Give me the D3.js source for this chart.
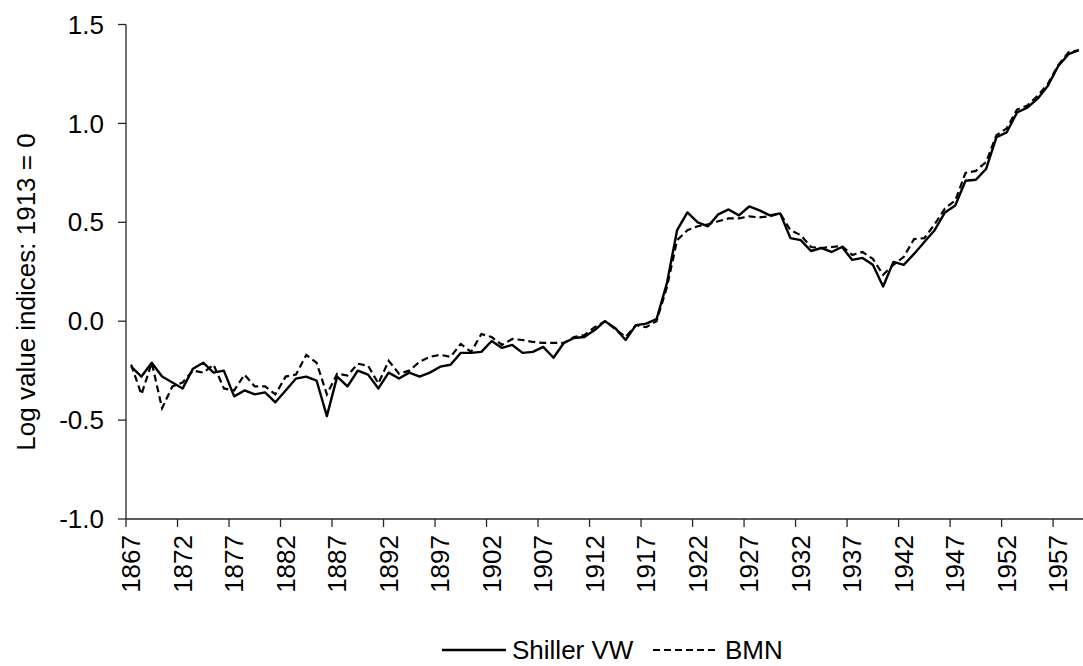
<!DOCTYPE html>
<html>
<head>
<meta charset="utf-8">
<script src="https://cdn.jsdelivr.net/npm/d3@7"></script>
<style>
  body { margin: 0; background: #fff; }
  svg { display: block; font-family: "Liberation Sans", Arial, sans-serif; }
</style>
</head>
<body>
<div id="chart"></div>
<script>
// data (log value indices, 1913 = 0)
const years = d3.range(1867, 1960);

const shillerVW = [
  -0.23, -0.28, -0.21, -0.28, -0.31, -0.34, -0.24, -0.21, -0.26, -0.25,   // 1867-1876
  -0.38, -0.35, -0.37, -0.36, -0.41, -0.35, -0.29, -0.28, -0.30, -0.48,   // 1877-1886
  -0.28, -0.33, -0.25, -0.27, -0.34, -0.26, -0.29, -0.26, -0.28, -0.26,   // 1887-1896
  -0.23, -0.22, -0.16, -0.16, -0.155, -0.10, -0.135, -0.12, -0.16, -0.155, // 1897-1906
  -0.13, -0.185, -0.11, -0.085, -0.08, -0.045, 0, -0.035, -0.095, -0.02,  // 1907-1916
  -0.012, 0.01, 0.19, 0.46, 0.55, 0.50, 0.48, 0.54, 0.565, 0.535,         // 1917-1926
  0.58, 0.56, 0.535, 0.545, 0.42, 0.41, 0.355, 0.37, 0.35, 0.375,         // 1927-1936
  0.31, 0.32, 0.285, 0.175, 0.30, 0.285, 0.34, 0.40, 0.46, 0.55,          // 1937-1946
  0.585, 0.71, 0.715, 0.77, 0.93, 0.955, 1.055, 1.08, 1.125, 1.19,        // 1947-1956
  1.29, 1.35, 1.37                                                         // 1957-1959
];

const bmn = [
  -0.22, -0.37, -0.21, -0.44, -0.33, -0.31, -0.25, -0.26, -0.22, -0.34,
  -0.35, -0.27, -0.33, -0.33, -0.37, -0.28, -0.27, -0.17, -0.21, -0.37,
  -0.265, -0.275, -0.215, -0.225, -0.315, -0.20, -0.265, -0.25, -0.205, -0.18,
  -0.17, -0.18, -0.115, -0.155, -0.065, -0.08, -0.12, -0.09, -0.095, -0.105,
  -0.11, -0.11, -0.11, -0.08, -0.07, -0.03, 0, -0.04, -0.08, -0.02,
  -0.03, 0.0, 0.17, 0.41, 0.46, 0.48, 0.49, 0.505, 0.52, 0.52,
  0.53, 0.525, 0.53, 0.545, 0.46, 0.435, 0.375, 0.37, 0.375, 0.38,
  0.335, 0.35, 0.315, 0.235, 0.285, 0.325, 0.415, 0.42, 0.49, 0.57,
  0.61, 0.75, 0.76, 0.805, 0.94, 0.975, 1.07, 1.09, 1.14, 1.20,
  1.295, 1.36, 1.37
];

const yTicks = [-1.0, -0.5, 0.0, 0.5, 1.0, 1.5];
const xLabelYears = years.filter((d, i) => i % 5 === 0);
const seriesNames = ["Shiller VW", "BMN"];
const yTitle = "Log value indices: 1913 = 0";

const width = 1083;
const height = 666;
const fontSize = 26;

const svg = d3.select("#chart").append("svg")
  .attr("width", width)
  .attr("height", height);

const x = d3.scaleBand()
  .domain(years)
  .range([126, 1084])
  .padding(0);

const y = d3.scaleLinear()
  .domain([-1.0, 1.5])
  .range([519, 24.5]);

const xc = d => x(d) + x.bandwidth() / 2;

// y axis
svg.append("line")
  .attr("x1", x.range()[0]).attr("x2", x.range()[0])
  .attr("y1", y(1.5)).attr("y2", y(-1.0))
  .attr("stroke", "#262626").attr("stroke-width", 1.3);

svg.selectAll(".ytick").data(yTicks).enter().append("line")
  .attr("class", "ytick")
  .attr("x1", 118).attr("x2", 126)
  .attr("y1", d => y(d)).attr("y2", d => y(d))
  .attr("stroke", "#262626").attr("stroke-width", 1.3);

svg.selectAll(".ylab").data(yTicks).enter().append("text")
  .attr("class", "ylab")
  .attr("x", 104)
  .attr("y", d => y(d))
  .attr("dy", "0.35em")
  .attr("text-anchor", "end")
  .attr("font-size", fontSize)
  .attr("fill", "#000")
  .text(d => d.toFixed(1));

svg.append("text")
  .attr("transform", `translate(35,292) rotate(-90)`)
  .attr("text-anchor", "middle")
  .attr("font-size", fontSize)
  .text(yTitle);

// x axis
svg.append("line")
  .attr("x1", x.range()[0]).attr("x2", x.range()[1])
  .attr("y1", y(-1.0)).attr("y2", y(-1.0))
  .attr("stroke", "#262626").attr("stroke-width", 1.3);

svg.selectAll(".xtick").data(xLabelYears).enter().append("line")
  .attr("class", "xtick")
  .attr("x1", d => x(d)).attr("x2", d => x(d))
  .attr("y1", y(-1.0)).attr("y2", y(-1.0) + 8)
  .attr("stroke", "#262626").attr("stroke-width", 1.3);

svg.selectAll(".xlab").data(xLabelYears).enter().append("text")
  .attr("class", "xlab")
  .attr("transform", d => `translate(${xc(d)},${y(-1.0) + 16}) rotate(-90)`)
  .attr("dy", "0.35em")
  .attr("text-anchor", "end")
  .attr("font-size", fontSize)
  .text(d => d);

// lines
const line = d3.line()
  .x((d, i) => xc(years[i]))
  .y(d => y(d));

svg.append("path")
  .datum(bmn)
  .attr("d", line)
  .attr("fill", "none")
  .attr("stroke", "#000")
  .attr("stroke-width", 2.2)
  .attr("stroke-dasharray", "7,4");

svg.append("path")
  .datum(shillerVW)
  .attr("d", line)
  .attr("fill", "none")
  .attr("stroke", "#000")
  .attr("stroke-width", 2.4)
  .attr("stroke-linejoin", "round");

// legend
const legY = 650;
svg.append("line")
  .attr("x1", 442).attr("x2", 506)
  .attr("y1", legY).attr("y2", legY)
  .attr("stroke", "#000").attr("stroke-width", 2.4);
svg.append("text")
  .attr("x", 512).attr("y", legY).attr("dy", "0.35em")
  .attr("font-size", fontSize)
  .text(seriesNames[0]);

svg.append("line")
  .attr("x1", 653).attr("x2", 718)
  .attr("y1", legY).attr("y2", legY)
  .attr("stroke", "#000").attr("stroke-width", 2.2)
  .attr("stroke-dasharray", "7,4");
svg.append("text")
  .attr("x", 725).attr("y", legY).attr("dy", "0.35em")
  .attr("font-size", fontSize)
  .text(seriesNames[1]);
</script>
</body>
</html>
